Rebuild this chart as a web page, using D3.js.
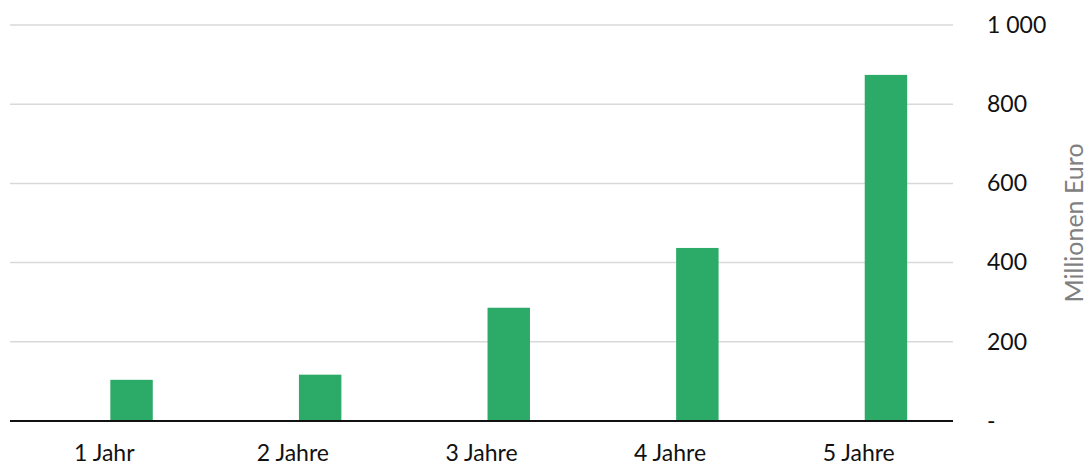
<!DOCTYPE html>
<html>
<head>
<meta charset="utf-8">
<script src="https://cdn.jsdelivr.net/npm/d3@7"></script>
<style>
  body { margin: 0; background: #fff; }
  text { font-family: Lato, "Liberation Sans", sans-serif; }
</style>
</head>
<body>
<div id="chart"></div>
<script>
// data
var categories = ["1 Jahr", "2 Jahre", "3 Jahre", "4 Jahre", "5 Jahre"];
var values = [104, 117, 286, 437, 874];
var yTicks = [0, 200, 400, 600, 800, 1000];
var yTickLabels = ["-", "200", "400", "600", "800", "1 000"];
var yTitle = "Millionen Euro";

var width = 1088, height = 466;
var margin = {top: 25, right: 135, bottom: 45, left: 10};
var fontSize = 23;

var svg = d3.select("#chart").append("svg")
    .attr("width", width)
    .attr("height", height);

var xScale = d3.scaleBand()
    .domain(categories)
    .range([margin.left, width - margin.right])
    .padding(0);

var yScale = d3.scaleLinear()
    .domain([0, 1000])
    .range([height - margin.bottom, margin.top]);

// gridlines
svg.append("g").selectAll("line")
    .data(yTicks.filter(function (d) { return d > 0; }))
    .enter().append("line")
    .attr("x1", margin.left)
    .attr("x2", width - margin.right)
    .attr("y1", function (d) { return yScale(d); })
    .attr("y2", function (d) { return yScale(d); })
    .attr("stroke", "#d9d9d9")
    .attr("stroke-width", 1.5);

// bars (sit right of band centre like an excel clustered column)
var bw = xScale.bandwidth();
svg.append("g").selectAll("rect")
    .data(values)
    .enter().append("rect")
    .attr("x", function (d, i) { return xScale(categories[i]) + bw * 0.532; })
    .attr("width", bw * 0.225)
    .attr("y", function (d) { return yScale(d); })
    .attr("height", function (d) { return yScale(0) - yScale(d); })
    .attr("fill", "#2caa68");

// baseline
svg.append("line")
    .attr("x1", margin.left)
    .attr("x2", width - margin.right)
    .attr("y1", yScale(0))
    .attr("y2", yScale(0))
    .attr("stroke", "#111")
    .attr("stroke-width", 2);

// x labels
var xAxis = d3.axisBottom(xScale).tickSize(0).tickPadding(0);
var gx = svg.append("g")
    .attr("transform", "translate(0," + (yScale(0) + 40) + ")")
    .call(xAxis);
gx.select(".domain").remove();
gx.selectAll("text")
    .attr("dy", 0)
    .attr("font-size", fontSize)
    .attr("fill", "#111")
    .style("font-family", "Lato, 'Liberation Sans', sans-serif");

// y axis on right
var yAxis = d3.axisRight(yScale)
    .tickValues(yTicks)
    .tickSize(0)
    .tickFormat(function (d, i) { return yTickLabels[i]; });
var gy = svg.append("g")
    .attr("transform", "translate(" + (width - margin.right + 34) + ",0)")
    .call(yAxis);
gy.select(".domain").remove();
gy.selectAll("text")
    .attr("x", 0)
    .attr("font-size", fontSize)
    .attr("fill", "#111")
    .style("font-family", "Lato, 'Liberation Sans', sans-serif");

// axis title
svg.append("text")
    .attr("transform", "translate(1083," + ((yScale(0) + yScale(1000)) / 2) + ") rotate(-90)")
    .attr("text-anchor", "middle")
    .attr("font-size", 25)
    .attr("fill", "#808080")
    .text(yTitle);
</script>
</body>
</html>
